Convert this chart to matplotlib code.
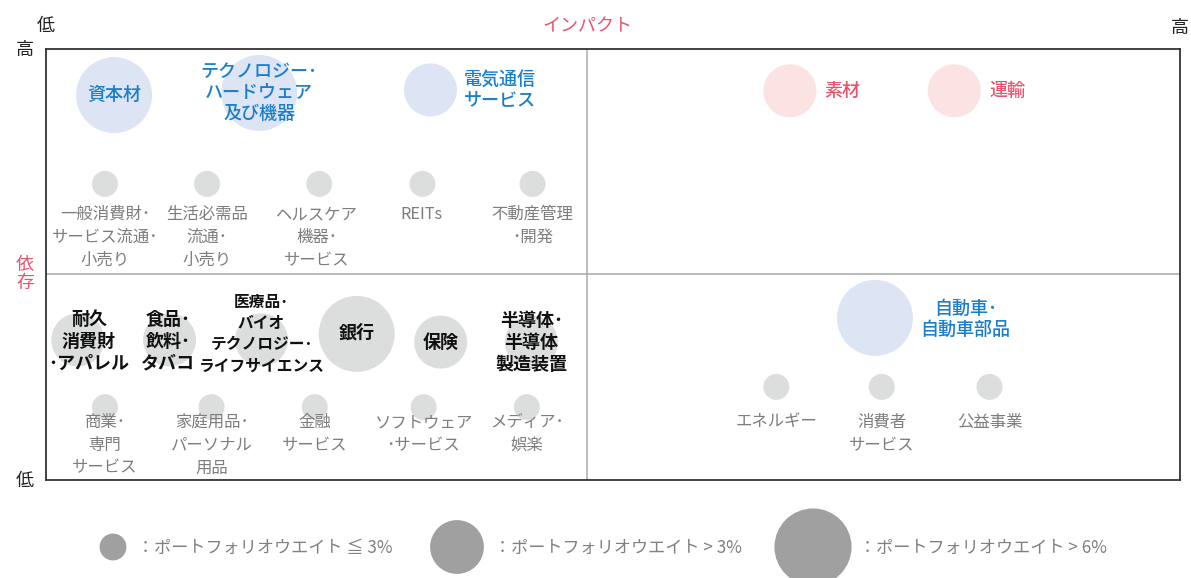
import matplotlib
matplotlib.use("Agg")
import matplotlib.pyplot as plt

plt.rcParams['font.family'] = ['Noto Sans CJK JP', 'DejaVu Sans']

# ---- data ----
sectors = [
    "資本材", "テクノロジー･\nハードウェア\n及び機器", "電気通信\nサービス",
    "一般消費財･\nサービス流通･\n小売り", "生活必需品\n流通･\n小売り", "ヘルスケア\n機器･\nサービス", "REITs", "不動産管理\n･開発",
    "耐久\n消費財\n･アパレル", "食品･\n飲料･\nタバコ", "医療品･\nバイオ\nテクノロジー･\nライフサイエンス", "銀行", "保険", "半導体･\n半導体\n製造装置",
    "商業･\n専門\nサービス", "家庭用品･\nパーソナル\n用品", "金融\nサービス", "ソフトウェア\n･サービス", "メディア･\n娯楽",
    "素材", "運輸",
    "自動車･\n自動車部品",
    "エネルギー", "消費者\nサービス", "公益事業",
]
impact = [6.0, 18.8, 33.9,
          5.2, 14.2, 24.1, 33.2, 42.9,
          2.8, 10.9, 19.0, 27.4, 34.8, 42.8,
          5.2, 14.6, 23.7, 33.3, 42.4,
          65.6, 80.1,
          73.1,
          64.4, 73.7, 83.2]
dependency = [89.3, 89.8, 90.5,
              68.7, 68.7, 68.7, 68.7, 68.7,
              32.5, 32.5, 32.5, 33.9, 32.0, 32.0,
              16.9, 16.9, 16.9, 16.9, 16.9,
              90.3, 90.3,
              37.6,
              21.6, 21.6, 21.6]
# weight class: 0 = <=3%, 1 = >3%, 2 = >6%
weight = [2, 2, 1,
          0, 0, 0, 0, 0,
          1, 1, 1, 2, 1, 1,
          0, 0, 0, 0, 0,
          1, 1,
          2,
          0, 0, 0]
# group: 'blue', 'pink', 'bold', 'gray'
group = ['blue', 'blue', 'blue',
         'gray', 'gray', 'gray', 'gray', 'gray',
         'bold', 'bold', 'bold', 'bold', 'bold', 'bold',
         'gray', 'gray', 'gray', 'gray', 'gray',
         'pink', 'pink',
         'blue',
         'gray', 'gray', 'gray']
# label offset from bubble centre (points) and alignment
label_dx = [0, 0, 24,
            0, 0, -2, -1, 0,
            8, -1, 0, 0, 0, 0,
            0, 0, 0, 0, 0,
            25, 25,
            65,
            0, 0, 0]
label_dy = [0, 0, 0,
            -16, -16, -16, -16, -16,
            -1, -1, 4.5, 1, 0, 0,
            -4.8, -4.8, -4.8, -4.8, -4.8,
            0, 0,
            -1,
            -19.5, -19.5, -19.5]
label_ha = ['center', 'center', 'left',
            'center', 'center', 'center', 'center', 'center',
            'center', 'center', 'center', 'center', 'center', 'center',
            'center', 'center', 'center', 'center', 'center',
            'left', 'left',
            'center',
            'center', 'center', 'center']
label_va = ['center', 'center', 'center',
            'top', 'top', 'top', 'top', 'top',
            'center', 'center', 'center', 'center', 'center', 'center',
            'top', 'top', 'top', 'top', 'top',
            'center', 'center',
            'center',
            'top', 'top', 'top']

weight_labels = ["：ポートフォリオウエイト ≦ 3%", "：ポートフォリオウエイト > 3%", "：ポートフォリオウエイト > 6%"]
threshold = 47.7

# ---- style ----
W, H = 1191, 578
marker_s = {0: 350, 1: 1456, 2: 2994}
fill = {'blue': '#dde4f3', 'pink': '#fbe3e3', 'bold': '#dcdddd', 'gray': '#dcdddd'}
tcol = {'blue': '#1a7fc9', 'pink': '#e8536c', 'bold': '#111111', 'gray': '#7d7d7d'}
tweight = {'blue': 'medium', 'pink': 'medium', 'bold': 'bold', 'gray': 'normal'}
tsize = {'blue': 13, 'pink': 13, 'bold': 13, 'gray': 11.8}
tspace = {'blue': 1.22, 'pink': 1.22, 'bold': 1.2, 'gray': 1.45}
size_override = {10: 11.3}  # long katakana label drawn narrower to avoid overlap
space_override = {10: 1.4}

fig = plt.figure(figsize=(W / 100, H / 100), dpi=100)

box_l, box_r, box_t, box_b = 46, 1180, 49, 480
ax = fig.add_axes([box_l / W, (H - box_b) / H, (box_r - box_l) / W, (box_b - box_t) / H])
ax.set_xlim(0, 100)
ax.set_ylim(0, 100)
ax.set_xticks([])
ax.set_yticks([])
for sp in ax.spines.values():
    sp.set_color('#333333')
    sp.set_linewidth(1.3)
ax.axvline(threshold, color='#aaaaaa', lw=1.1, zorder=0)
ax.axhline(threshold, color='#aaaaaa', lw=1.1, zorder=0)

ax.scatter(impact, dependency, s=[marker_s[w] for w in weight],
           c=[fill[g] for g in group], edgecolors='none', zorder=1, clip_on=False)

for i, (name, x, y, g, dx, dy, ha, va) in enumerate(zip(sectors, impact, dependency, group,
                                                        label_dx, label_dy, label_ha, label_va)):
    ax.annotate(name, (x, y), xytext=(dx, dy), textcoords='offset points',
                ha=ha, va=va, ma='center', fontsize=size_override.get(i, tsize[g]),
                color=tcol[g], fontweight=tweight[g],
                linespacing=space_override.get(i, tspace[g]), zorder=3)

# axis texts
def ft(px, py, s, **kw):
    fig.text(px / W, 1 - py / H, s, **kw)

ft(587, 26, "インパクト", ha='center', va='center', fontsize=13, color='#e8536c')
ft(46, 26, "低", ha='center', va='center', fontsize=13, color='#222222')
ft(1180, 28, "高", ha='center', va='center', fontsize=13, color='#222222')
ft(25, 50, "高", ha='center', va='center', fontsize=13, color='#222222')
ft(25, 481, "低", ha='center', va='center', fontsize=13, color='#222222')
ft(25, 274, "依\n存", ha='center', va='center', fontsize=13, color='#e8536c', linespacing=1.0)

# legend
lax = fig.add_axes([0, 0, 1, 1], zorder=-1)
lax.set_xlim(0, W)
lax.set_ylim(H, 0)
lax.axis('off')
leg_x = [113, 457, 813]
leg_tx = [137, 494, 859]
for i, (lx, tx, lab) in enumerate(zip(leg_x, leg_tx, weight_labels)):
    lax.scatter([lx], [547], s=marker_s[i] * (1.07 if i == 0 else 1.03), c='#a0a0a0',
                edgecolors='none', clip_on=True)
    lax.text(tx, 548, lab, ha='left', va='center', fontsize=12.3, color='#808080')

fig.savefig("out.png", dpi=100)
